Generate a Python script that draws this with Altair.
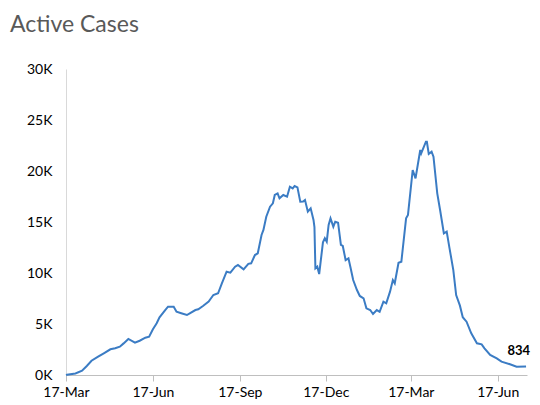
import altair as alt
import pandas as pd

# Day offsets from 17-Mar-2020 and active case counts
day_offsets = [
    0, 1, 10, 17, 22, 27, 34, 40, 47, 52,
    57, 61, 66, 73, 78, 84, 88, 92, 96, 99,
    105, 108, 114, 117, 122, 128, 131, 137, 140, 145,
    151, 156, 161, 165, 170, 174, 179, 182, 188, 193,
    196, 200, 203, 207, 209, 212, 216, 219, 221, 224,
    226, 230, 234, 237, 240, 242, 245, 248, 251, 253,
    256, 259, 262, 263, 264, 266, 268, 272, 274, 276,
    278, 280, 283, 285, 288, 291, 293, 296, 299, 301,
    304, 308, 311, 315, 318, 322, 325, 329, 332, 336,
    339, 343, 346, 348, 352, 355, 360, 362, 367, 370,
    375, 376, 381, 382, 384, 387, 389, 393, 396, 400,
    403, 406, 410, 413, 417, 420, 424, 429, 435, 440,
    443, 449, 456, 461, 470, 477, 487,
]
active_cases = [
    0, 30, 150, 420, 880, 1400, 1800, 2130, 2520, 2620,
    2780, 3100, 3530, 3170, 3360, 3660, 3760, 4480, 5070, 5650,
    6370, 6700, 6700, 6200, 6050, 5880, 6050, 6370, 6440, 6760,
    7190, 7840, 8010, 8990, 10130, 10030, 10620, 10780, 10360, 10900,
    10950, 11760, 11930, 13730, 14220, 15520, 16500, 16830, 17650, 17810,
    17320, 17650, 17480, 18460, 18300, 18530, 18400, 16990, 17000, 17160,
    16010, 16340, 15200, 14500, 10460, 10620, 9900, 13000, 13400, 13070,
    14710, 15360, 14540, 15030, 14930, 12750, 12650, 11270, 11440, 10620,
    9310, 8330, 7750, 7520, 6540, 6370, 5980, 6370, 6200, 7190,
    7030, 8170, 9310, 8990, 11000, 11110, 15360, 15690, 20100, 19280,
    22060, 21730, 22870, 22870, 21670, 21890, 21400, 17810, 16180, 13890,
    14050, 12420, 10290, 7840, 6800, 5660, 5230, 4090, 3110, 3010,
    2620, 1960, 1630, 1310, 1050, 810, 834,
]

tick_dates = ["2020-03-17", "2020-06-17", "2020-09-17", "2020-12-17", "2021-03-17", "2021-06-17"]
y_ticks = [0, 5000, 10000, 15000, 20000, 25000, 30000]
last_label = "834"

start = pd.Timestamp("2020-03-17")
df = pd.DataFrame({
    "date": [start + pd.Timedelta(days=d) for d in day_offsets],
    "cases": active_cases,
})
df_last = df.tail(1).assign(label=last_label)

font = "Lato"
x_scale = alt.Scale(domain=["2020-03-17", "2021-07-18"])
y_scale = alt.Scale(domain=[0, 30000])

line = alt.Chart(df).mark_line(color="#3b7cc4", strokeWidth=2).encode(
    x=alt.X("date:T", scale=x_scale,
            axis=alt.Axis(values=tick_dates, format="%d-%b", title=None, grid=False,
                          labelFont=font, labelFontSize=14, labelColor="#000000",
                          domainColor="#bfbfbf", tickColor="#bfbfbf", tickSize=6,
                          labelPadding=4, labelFlush=False)),
    y=alt.Y("cases:Q", scale=y_scale,
            axis=alt.Axis(values=y_ticks, labelExpr="datum.value / 1000 + 'K'", title=None,
                          grid=False, ticks=False, labelFont=font, labelFontSize=14,
                          labelColor="#000000", domainColor="#d9d9d9", labelPadding=14)),
)

label = alt.Chart(df_last).mark_text(font=font, fontSize=13, fontWeight="bold",
                                     color="#000000", align="right", dx=4, dy=-15).encode(
    x="date:T", y="cases:Q", text="label:N")

chart = alt.layer(line, label).properties(
    width=461, height=306,
    title=alt.TitleParams("Active Cases", anchor="start", frame="group", dx=-56,
                          font=font, fontSize=23, fontWeight="normal", color="#595959",
                          offset=25),
    padding={"left": 58, "top": 61, "right": 5, "bottom": 24},
    autosize=alt.AutoSizeParams(type="none"),
).configure_view(stroke=None)

chart.save("out.html", embed_options={"renderer": "svg", "actions": False})
